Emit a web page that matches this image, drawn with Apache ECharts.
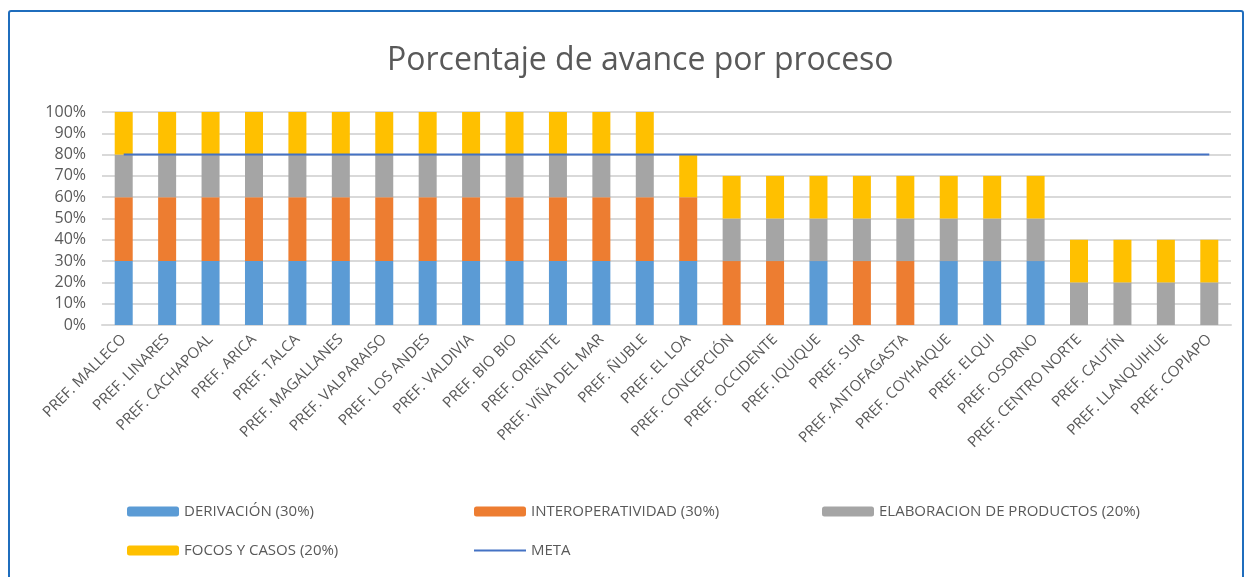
<!DOCTYPE html>
<html lang="es">
<head>
  <meta charset="UTF-8">
  <title>Porcentaje de avance por proceso</title>
  <script src="https://cdn.jsdelivr.net/npm/echarts@6/dist/echarts.min.js"></script>
  <style>
    html, body { margin: 0; padding: 0; background: #fff; }
    #frame {
      position: absolute; left: 8px; top: 10px; width: 1236px; height: 580px;
      border: 2px solid #1f6dbd; border-radius: 3px; box-sizing: border-box;
    }
    #chart { position: absolute; left: 0; top: 0; width: 1251px; height: 577px; }
  </style>
</head>
<body>
<div id="frame"></div>
<div id="chart"></div>
<script>
  // categories (prefecturas)
  const categories = [
    'PREF. MALLECO', 'PREF. LINARES', 'PREF. CACHAPOAL', 'PREF. ARICA', 'PREF. TALCA',
    'PREF. MAGALLANES', 'PREF. VALPARAISO', 'PREF. LOS ANDES', 'PREF. VALDIVIA', 'PREF. BIO BIO',
    'PREF. ORIENTE', 'PREF. VIÑA DEL MAR', 'PREF. ÑUBLE', 'PREF. EL LOA', 'PREF. CONCEPCIÓN',
    'PREF. OCCIDENTE', 'PREF. IQUIQUE', 'PREF. SUR', 'PREF. ANTOFAGASTA', 'PREF. COYHAIQUE',
    'PREF. ELQUI', 'PREF. OSORNO', 'PREF. CENTRO NORTE', 'PREF. CAUTÍN', 'PREF. LLANQUIHUE',
    'PREF. COPIAPO'
  ];
  // values in %
  const derivacion = [30,30,30,30,30,30,30,30,30,30,30,30,30,30,0,0,30,0,0,30,30,30,0,0,0,0];
  const interop    = [30,30,30,30,30,30,30,30,30,30,30,30,30,30,30,30,0,30,30,0,0,0,0,0,0,0];
  const elaboracion= [20,20,20,20,20,20,20,20,20,20,20,20,20,0,20,20,20,20,20,20,20,20,20,20,20,20];
  const focos      = [20,20,20,20,20,20,20,20,20,20,20,20,20,20,20,20,20,20,20,20,20,20,20,20,20,20];
  const meta       = categories.map(() => 80);
  const yTicks = [0, 10, 20, 30, 40, 50, 60, 70, 80, 90, 100];

  const seriesNames = ['DERIVACIÓN (30%)', 'INTEROPERATIVIDAD (30%)', 'ELABORACION DE PRODUCTOS (20%)', 'FOCOS Y CASOS (20%)', 'META'];
  const colors = ['#5b9bd5', '#ed7d31', '#a5a5a5', '#ffc000', '#4472c4'];
  const font = 'Open Sans';
  const textColor = '#595959';

  const chart = echarts.init(document.getElementById('chart'));

  function bar(i, data) {
    return {
      name: seriesNames[i], type: 'bar', stack: 'total', barWidth: 18,
      itemStyle: { color: colors[i] }, data: data
    };
  }

  const legendPos = [[122, 499], [469, 499], [817, 499], [122, 538], [469, 538]];
  const legends = seriesNames.map((n, i) => ({
    data: [i === 4 ? { name: n, icon: 'rect' } : n],
    left: legendPos[i][0], top: legendPos[i][1],
    itemWidth: 52, itemHeight: i === 4 ? 2 : 10, itemGap: 6,
    textStyle: { color: textColor, fontSize: 15, fontFamily: font }
  }));

  chart.setOption({
    animation: false,
    title: {
      text: 'Porcentaje de avance por proceso', left: 382, top: 40,
      textStyle: { color: textColor, fontSize: 32, fontWeight: 'normal', fontFamily: font }
    },
    legend: legends,
    grid: { left: 102, right: 20, top: 112, bottom: 252, containLabel: false },
    xAxis: {
      type: 'category', data: categories,
      axisLine: { lineStyle: { color: '#d9d9d9', width: 2 } },
      axisTick: { show: false },
      axisLabel: { rotate: 45, interval: 0, color: textColor, fontSize: 15, fontFamily: font, margin: 12 }
    },
    yAxis: {
      type: 'value', min: 0, max: 100, interval: 10,
      axisLine: { show: false }, axisTick: { show: false },
      splitLine: { lineStyle: { color: '#d9d9d9', width: 2 } },
      axisLabel: {
        color: textColor, fontSize: 16, fontFamily: font, margin: 16,
        formatter: v => yTicks.includes(v) ? v + '%' : ''
      }
    },
    series: [
      bar(0, derivacion), bar(1, interop), bar(2, elaboracion), bar(3, focos),
      {
        name: seriesNames[4], type: 'line', data: meta, symbol: 'none', z: 5,
        lineStyle: { color: colors[4], width: 2 }, itemStyle: { color: colors[4] }
      }
    ]
  });
</script>
</body>
</html>
